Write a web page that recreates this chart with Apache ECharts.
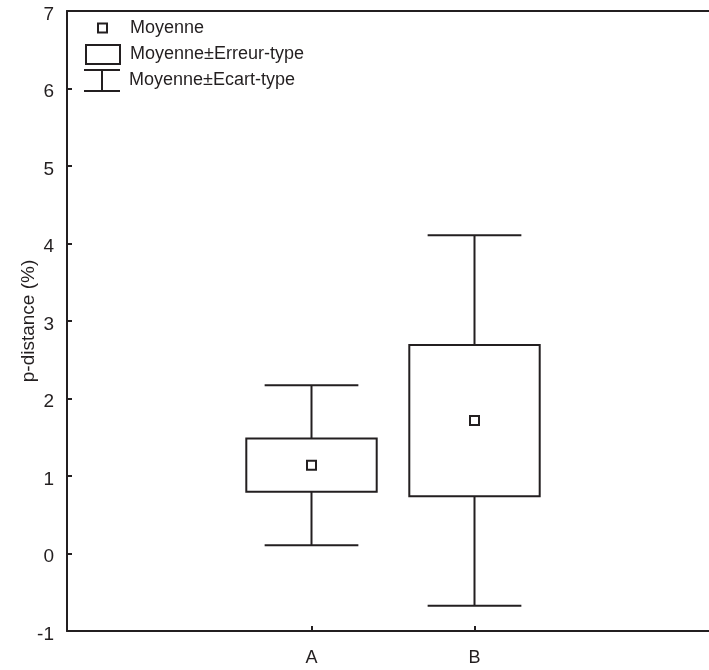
<!DOCTYPE html>
<html>
<head>
<meta charset="utf-8">
<script src="https://cdn.jsdelivr.net/npm/echarts@6/dist/echarts.min.js"></script>
<style>
  html, body { margin: 0; padding: 0; background: #fff; }
  #chart { width: 709px; height: 670px; }
</style>
</head>
<body>
<div id="chart"></div>
<script>
// Groups and their summary statistics (p-distance, %)
const categories = ['A', 'B'];
const means = [1.14, 1.715];
const stdErrors = [0.344, 0.975];
const stdDevs = [1.032, 2.39];
const yTicks = [-1, 0, 1, 2, 3, 4, 5, 6, 7];

const INK = '#231f20';
const FONT = "'Liberation Sans', Arial, sans-serif";

// x position of each group on the value axis
const xPos = categories.map((c, i) => i + 1);

const meanData = xPos.map((x, i) => [x, means[i]]);
const seData = xPos.map((x, i) => [x, means[i] - stdErrors[i], means[i] + stdErrors[i]]);
const sdData = xPos.map((x, i) => [x, means[i] - stdDevs[i], means[i] + stdDevs[i]]);

const BOX_WIDTH = 0.8;   // in x-axis units
const CAP_WIDTH = 0.575; // in x-axis units

function renderWhisker(params, api) {
  const x = api.value(0);
  const lo = api.coord([x, api.value(1)]);
  const hi = api.coord([x, api.value(2)]);
  const half = api.size([CAP_WIDTH, 0])[0] / 2;
  const style = { stroke: INK, lineWidth: 2, fill: null };
  return {
    type: 'group',
    children: [
      { type: 'line', shape: { x1: lo[0], y1: lo[1], x2: hi[0], y2: hi[1] }, style },
      { type: 'line', shape: { x1: hi[0] - half, y1: hi[1], x2: hi[0] + half, y2: hi[1] }, style },
      { type: 'line', shape: { x1: lo[0] - half, y1: lo[1], x2: lo[0] + half, y2: lo[1] }, style }
    ]
  };
}

function renderBox(params, api) {
  const x = api.value(0);
  const lo = api.coord([x, api.value(1)]);
  const hi = api.coord([x, api.value(2)]);
  const w = api.size([BOX_WIDTH, 0])[0];
  return {
    type: 'rect',
    shape: { x: lo[0] - w / 2, y: hi[1], width: w, height: lo[1] - hi[1] },
    style: { fill: '#fff', stroke: INK, lineWidth: 2 }
  };
}

const legendText = { fontFamily: FONT, fontSize: 18, color: INK };

const option = {
  backgroundColor: '#fff',
  animation: false,
  textStyle: { fontFamily: FONT },
  // the plot frame runs past the right edge of the canvas
  grid: {
    left: 67, top: 11, width: 652, height: 620,
    outerBoundsMode: 'none',
    containLabel: false,
    show: false
  },
  legend: [
    {
      left: 97, top: 19, padding: 0, itemWidth: 9, itemHeight: 9,
      selectedMode: false,
      textStyle: Object.assign({ padding: [0, 0, 0, 18] }, legendText),
      data: [{ name: 'Moyenne', icon: 'rect',
        itemStyle: { color: '#fff', borderColor: INK, borderWidth: 2 } }]
    },
    {
      left: 85, top: 44, padding: 0, itemWidth: 34, itemHeight: 19,
      selectedMode: false,
      textStyle: Object.assign({ padding: [0, 0, 0, 5] }, legendText),
      data: [{ name: 'Moyenne±Erreur-type', icon: 'rect',
        itemStyle: { color: '#fff', borderColor: INK, borderWidth: 2 } }]
    },
    {
      left: 84, top: 69, padding: 0, itemWidth: 36, itemHeight: 23,
      selectedMode: false,
      textStyle: Object.assign({ padding: [0, 0, 0, 4] }, legendText),
      data: [{ name: 'Moyenne±Ecart-type',
        icon: 'path://M0,0H36V2H19V21H36V23H0V21H17V2H0Z',
        itemStyle: { color: INK, borderWidth: 0 } }]
    }
  ],
  xAxis: [
    {
      type: 'value',
      min: -0.5, max: 3.5,
      splitLine: { show: false },
      axisLine: { show: true, onZero: false, lineStyle: { color: INK, width: 2 } },
      axisTick: { show: true, inside: true, length: 5, customValues: xPos,
        lineStyle: { color: INK, width: 2 } },
      axisLabel: {
        customValues: xPos,
        formatter: v => categories[Math.round(v) - 1] || '',
        fontFamily: FONT, fontSize: 18, color: INK, margin: 18
      }
    },
    {
      // top frame line
      type: 'value', position: 'top',
      min: -0.5, max: 3.5,
      splitLine: { show: false },
      axisLine: { show: true, onZero: false, lineStyle: { color: INK, width: 2 } },
      axisTick: { show: false },
      axisLabel: { show: false }
    }
  ],
  yAxis: {
    type: 'value',
    min: yTicks[0], max: yTicks[yTicks.length - 1], interval: 1,
    name: 'p-distance (%)',
    nameLocation: 'middle',
    nameGap: 29,
    nameMoveOverlap: false,
    nameTextStyle: { fontFamily: FONT, fontSize: 19, color: INK },
    splitLine: { show: false },
    axisLine: { show: true, onZero: false, lineStyle: { color: INK, width: 2 } },
    axisTick: { show: true, inside: true, length: 5, lineStyle: { color: INK, width: 2 } },
    axisLabel: {
      margin: 13,
      formatter: v => '{t|' + v + '}',
      rich: { t: { fontFamily: FONT, fontSize: 19, color: INK, padding: [7, 0, 0, 0] } }
    }
  },
  series: [
    {
      name: 'Moyenne±Ecart-type',
      type: 'custom',
      renderItem: renderWhisker,
      encode: { x: 0, y: [1, 2] },
      itemStyle: { color: INK },
      data: sdData,
      z: 2
    },
    {
      name: 'Moyenne±Erreur-type',
      type: 'custom',
      renderItem: renderBox,
      encode: { x: 0, y: [1, 2] },
      itemStyle: { color: '#fff', borderColor: INK },
      data: seData,
      z: 3
    },
    {
      name: 'Moyenne',
      type: 'scatter',
      symbol: 'rect',
      symbolSize: 9,
      itemStyle: { color: '#fff', borderColor: INK, borderWidth: 2, opacity: 1 },
      data: meanData,
      z: 4
    }
  ]
};

const chart = echarts.init(document.getElementById('chart'), null, { renderer: 'canvas' });
chart.setOption(option);
</script>
</body>
</html>
